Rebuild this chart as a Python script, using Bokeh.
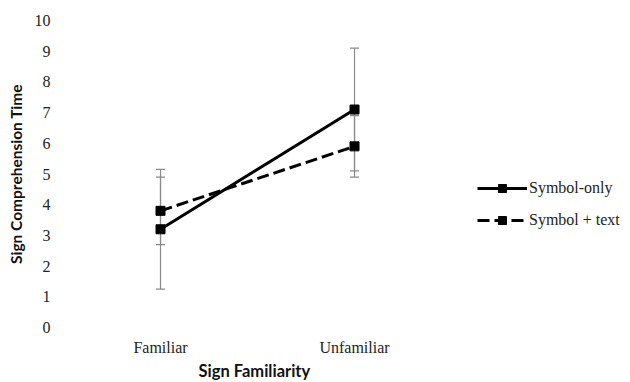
from bokeh.plotting import figure
from bokeh.models import Range1d, FixedTicker, Legend, LegendItem, Title
from bokeh.embed import file_html
from bokeh.resources import INLINE

categories = ["Familiar", "Unfamiliar"]
x_pos = [0.5, 1.5]
symbol_only = [3.2, 7.1]
symbol_only_err = [1.95, 2.0]
symbol_text = [3.8, 5.9]
symbol_text_err = [1.1, 1.0]
y_ticks = [0, 1, 2, 3, 4, 5, 6, 7, 8, 9, 10]

p = figure(frame_width=564, frame_height=307, output_backend="svg", toolbar_location=None,
           x_range=Range1d(0, 2.907), y_range=Range1d(0, 10),
           min_border_left=63, min_border_right=0, min_border_top=20, min_border_bottom=0)
p.outline_line_color = None
p.grid.visible = False

def errbars(vals, errs, color="#8a8a8a"):
    lo = [v - e for v, e in zip(vals, errs)]
    hi = [v + e for v, e in zip(vals, errs)]
    p.segment(x0=x_pos, x1=x_pos, y0=lo, y1=hi, line_color=color, line_width=1.2)
    p.scatter(x=x_pos * 2, y=lo + hi, marker="dash", size=9, line_color=color, line_width=1.2)

errbars(symbol_only, symbol_only_err)
errbars(symbol_text, symbol_text_err)

l1 = p.line(x_pos, symbol_only, line_color="black", line_width=3)
m1 = p.scatter(x_pos, symbol_only, marker="square", size=9, color="black")
l2 = p.line(x_pos, symbol_text, line_color="black", line_width=3, line_dash="12 5")
m2 = p.scatter(x_pos, symbol_text, marker="square", size=9, color="black")

legend = Legend(items=[LegendItem(label="Symbol-only", renderers=[l1, m1]),
                       LegendItem(label="Symbol + text", renderers=[l2, m2])],
                location=(414, 97), glyph_width=50, glyph_height=20, label_height=20,
                spacing=12, padding=0, margin=0, border_line_color=None,
                background_fill_alpha=0, label_text_font="Liberation Serif",
                label_text_font_size="16px", label_standoff=2, label_text_color="#222222")
p.add_layout(legend, "center")

p.xaxis.ticker = FixedTicker(ticks=x_pos)
p.xaxis.major_label_overrides = {x: c for x, c in zip(x_pos, categories)}
p.yaxis.ticker = FixedTicker(ticks=y_ticks)
for ax in (p.xaxis, p.yaxis):
    ax.axis_line_color = None
    ax.major_tick_line_color = None
    ax.minor_tick_line_color = None
    ax.major_tick_out = 0
    ax.major_tick_in = 0
    ax.minor_tick_out = 0
    ax.minor_tick_in = 0
    ax.major_label_text_font = "Liberation Serif"
    ax.major_label_text_font_size = "16px"
    ax.major_label_text_color = "#222222"
    ax.axis_label_text_font = "Lato"
    ax.axis_label_text_font_style = "bold"
    ax.axis_label_text_color = "#111111"
p.yaxis.axis_label = "Sign Comprehension Time"
p.yaxis.axis_label_text_font_size = "15.5px"
p.xaxis.major_label_standoff = 11
p.yaxis.major_label_standoff = 13
p.yaxis.axis_label_standoff = 7

xtitle = Title(text="Sign Familiarity", align="left", offset=135, standoff=0,
               text_font="Lato", text_font_style="bold", text_font_size="16.5px",
               text_color="#111111")
p.add_layout(xtitle, "below")

open("out.html", "w").write(file_html(p, INLINE))
